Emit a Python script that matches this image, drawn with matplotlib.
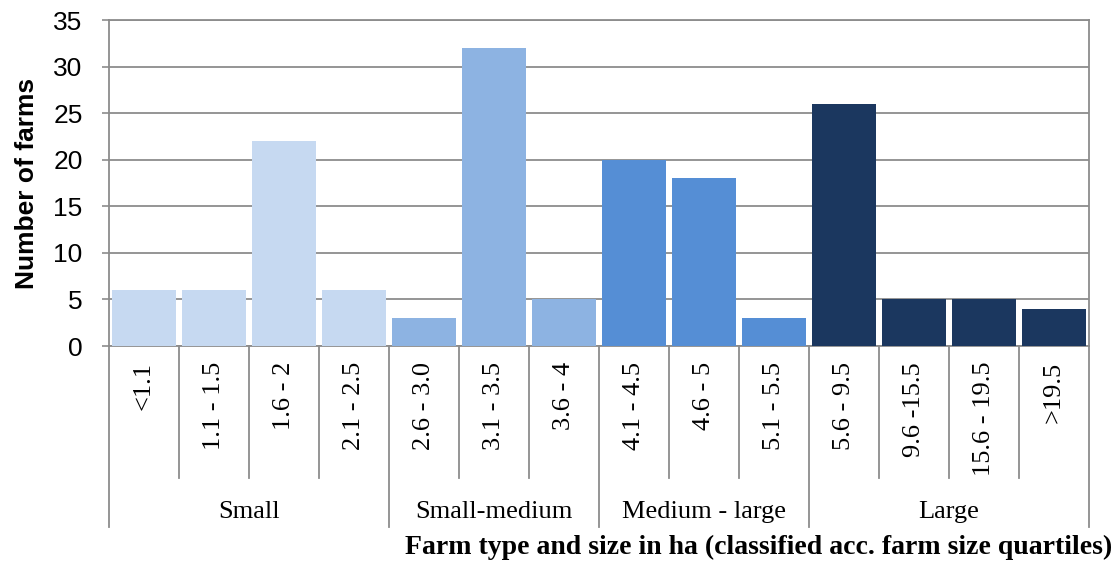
import matplotlib
matplotlib.use("Agg")
import matplotlib.pyplot as plt
from matplotlib.transforms import blended_transform_factory

# Farm size classes (ha) and counts
size_classes = ["<1.1", "1.1 - 1.5", "1.6 - 2", "2.1 - 2.5",
                "2.6 - 3.0", "3.1 - 3.5", "3.6 - 4",
                "4.1 - 4.5", "4.6 - 5", "5.1 - 5.5",
                "5.6 - 9.5", "9.6 -15.5", "15.6 - 19.5", ">19.5"]
farm_counts = [6, 6, 22, 6, 3, 32, 5, 20, 18, 3, 26, 5, 5, 4]

# Farm types (quartile groups) and how many size classes each spans
farm_types = ["Small", "Small-medium", "Medium - large", "Large"]
type_sizes = [4, 3, 3, 4]
type_colors = ["#C6D9F1", "#8DB3E2", "#558ED5", "#1B375F"]

y_ticks = [0, 5, 10, 15, 20, 25, 30, 35]

W, H = 1117, 569
fig = plt.figure(figsize=(W / 100, H / 100), dpi=100)
left, right, top, bottom = 109, 1089, 20, 346
ax = fig.add_axes([left / W, 1 - bottom / H, (right - left) / W, (bottom - top) / H])

grid_col = "#8C8C8C"
bar_colors = []
for c, n in zip(type_colors, type_sizes):
    bar_colors += [c] * n

x = list(range(len(size_classes)))
ax.bar(x, farm_counts, width=0.91, color=bar_colors, zorder=3)

ax.set_xlim(-0.5, len(size_classes) - 0.5)
ax.set_ylim(0, 35)
ax.set_yticks(y_ticks)
ax.set_yticklabels([str(v) for v in y_ticks], fontfamily="Liberation Sans", fontsize=19)
ax.tick_params(axis="y", length=5, width=1.2, color=grid_col, pad=14)
ax.set_xticks([])
ax.yaxis.grid(True, color=grid_col, linewidth=1.3, zorder=0)
for s in ["left", "right", "top", "bottom"]:
    ax.spines[s].set_color(grid_col)
    ax.spines[s].set_linewidth(1.3)

ax.set_ylabel("Number of farms", fontfamily="Liberation Sans", fontweight="bold",
              fontsize=19, labelpad=10)

# Category axis: size-class separators, group separators and labels
trans = blended_transform_factory(ax.transData, ax.transAxes)
short_y = (bottom - 478) / (bottom - top)
long_y = (bottom - 527) / (bottom - top)
group_edges = [-0.5]
for n in type_sizes:
    group_edges.append(group_edges[-1] + n)
for i in range(len(size_classes) + 1):
    xe = i - 0.5
    y_end = long_y if xe in group_edges else short_y
    ax.plot([xe, xe], [0, y_end], color=grid_col, linewidth=1.3,
            transform=trans, clip_on=False)

label_y = (bottom - 362) / (bottom - top)
for xi, lab in zip(x, size_classes):
    ax.text(xi, label_y, lab, rotation=90, ha="center", va="top",
            fontfamily="Liberation Serif", fontsize=19, transform=trans)

group_y = (bottom - 512) / (bottom - top)
for name, a, b in zip(farm_types, group_edges[:-1], group_edges[1:]):
    ax.text((a + b) / 2, group_y, name, ha="center", va="center",
            fontfamily="Liberation Serif", fontsize=19, transform=trans)

fig.text(1112 / W, 1 - 547 / H,
         "Farm type and size in ha (classified acc. farm size quartiles)",
         ha="right", va="center", fontfamily="Liberation Serif",
         fontweight="bold", fontsize=20)

fig.savefig("out.png", dpi=100)
